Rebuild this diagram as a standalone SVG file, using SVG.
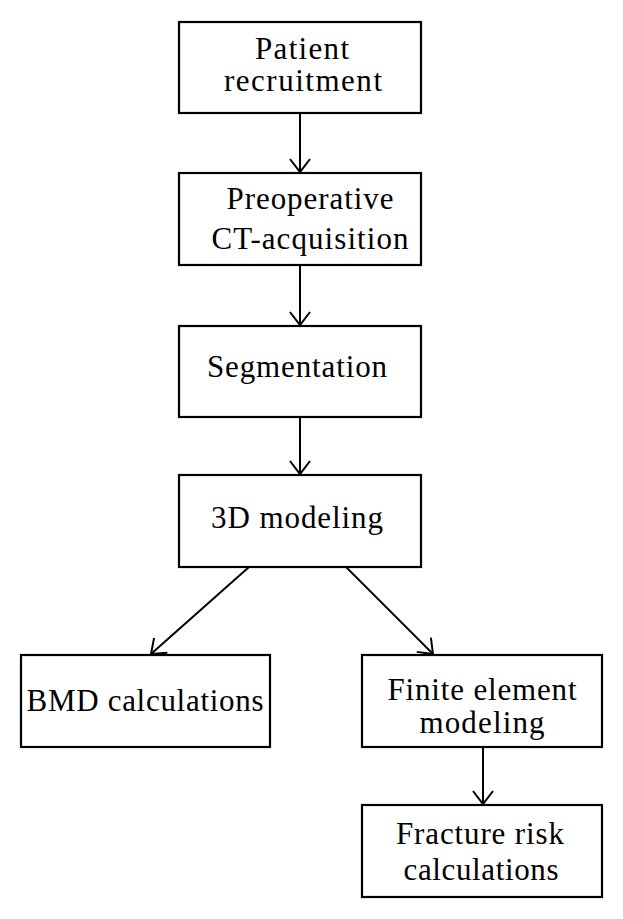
<svg xmlns="http://www.w3.org/2000/svg" width="623" height="919" viewBox="0 0 623 919">
<defs>
<style>
.box{fill:#fff;stroke:#000;stroke-width:2.2}
.t{font-family:"Liberation Serif","Times New Roman",serif;font-size:31px;fill:#000;text-anchor:middle}
.c{stroke:#000;stroke-width:2;fill:none}
</style>
<marker id="ah" markerUnits="userSpaceOnUse" markerWidth="30" markerHeight="30" viewBox="-15 -15 30 30" refX="0" refY="0" orient="auto">
<polyline points="-13,-10 0,0 -13,10" fill="none" stroke="#000" stroke-width="2"/>
</marker>
</defs>
<rect width="623" height="919" fill="#fff"/>
<g id="connectors">
<line class="c" x1="300" y1="113" x2="300" y2="172" marker-end="url(#ah)"/>
<line class="c" x1="300" y1="265" x2="300" y2="325" marker-end="url(#ah)"/>
<line class="c" x1="300" y1="417" x2="300" y2="474" marker-end="url(#ah)"/>
<line class="c" x1="249" y1="567" x2="151" y2="654" marker-end="url(#ah)"/>
<line class="c" x1="346" y1="567" x2="433" y2="654" marker-end="url(#ah)"/>
<line class="c" x1="483" y1="747" x2="483" y2="804" marker-end="url(#ah)"/>
</g>
<g id="n1"><rect class="box" x="179" y="22" width="242" height="91"/><text class="t" x="302" y="59" textLength="94">Patient</text><text class="t" x="303" y="91" textLength="158">recruitment</text></g>
<g id="n2"><rect class="box" x="179" y="173" width="242" height="92"/><text class="t" x="310" y="209" textLength="167">Preoperative</text><text class="t" x="310" y="249" textLength="197">CT-acquisition</text></g>
<g id="n3"><rect class="box" x="179" y="326" width="242" height="91"/><text class="t" x="297" y="377" textLength="180">Segmentation</text></g>
<g id="n4"><rect class="box" x="179" y="475" width="242" height="92"/><text class="t" x="297" y="528" textLength="172">3D modeling</text></g>
<g id="n5"><rect class="box" x="21" y="655" width="249" height="92"/><text class="t" x="145" y="711" textLength="237">BMD calculations</text></g>
<g id="n6"><rect class="box" x="362" y="655" width="240" height="92"/><text class="t" x="482" y="700" textLength="189">Finite element</text><text class="t" x="482" y="733" textLength="125">modeling</text></g>
<g id="n7"><rect class="box" x="362" y="805" width="240" height="92"/><text class="t" x="480" y="844" textLength="168">Fracture risk</text><text class="t" x="481" y="880" textLength="155">calculations</text></g>
</svg>
